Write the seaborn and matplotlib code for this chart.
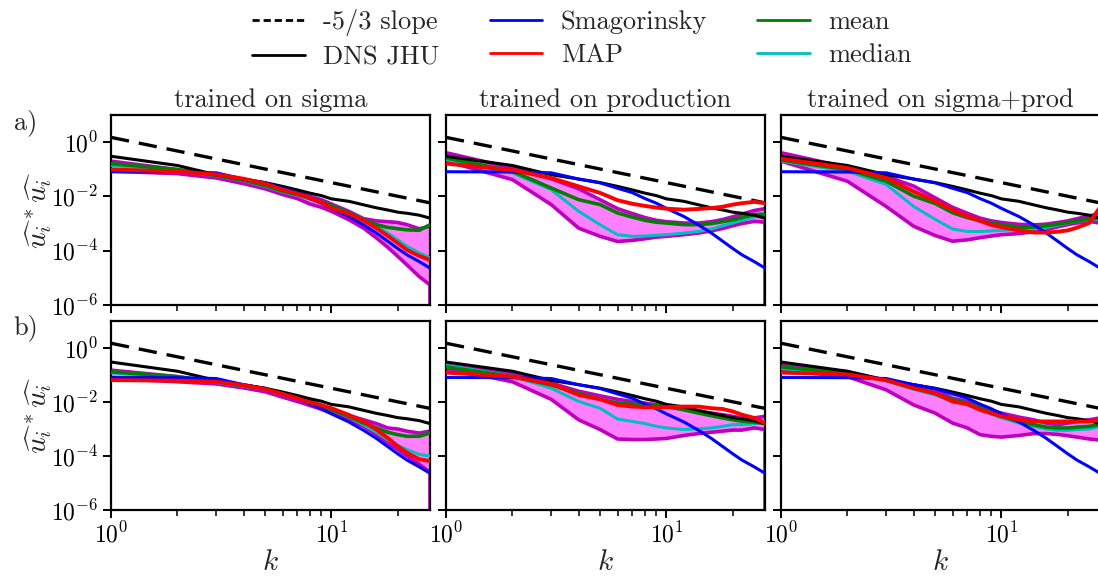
import numpy as np
import pandas as pd
import matplotlib
matplotlib.use("Agg")
import matplotlib.pyplot as plt
import seaborn as sns
from matplotlib.lines import Line2D
from matplotlib.ticker import FixedLocator, NullFormatter, NullLocator, LogLocator

# ---------------- data (log10 of spectrum values) ----------------
k = [1, 2, 3, 4, 5, 6, 7, 8, 9, 10, 12, 14, 16, 18, 20, 22, 25, 28]
k_lo = k + [28]                       # lower band ends with a drop at the last mode
slope_k = [1, 28]
slope_vals = [1.5, 0.0058]

dns = [-0.52, -0.86, -1.20, -1.36, -1.49, -1.63, -1.76, -1.88, -1.97, -2.09, -2.18, -2.31, -2.42, -2.50, -2.58, -2.62, -2.69, -2.80]
smag = [-1.09, -1.10, -1.13, -1.36, -1.50, -1.70, -1.86, -2.08, -2.25, -2.44, -2.74, -3.05, -3.35, -3.65, -3.92, -4.15, -4.40, -4.64]

# row a) , trained on sigma
up_a_sig = [-0.70, -1.01, -1.23, -1.38, -1.53, -1.74, -1.86, -2.00, -2.12, -2.28, -2.55, -2.82, -2.90, -2.93, -2.96, -3.04, -3.19, -3.10]
mean_a_sig = [-0.79, -1.01, -1.23, -1.40, -1.60, -1.80, -1.93, -2.07, -2.20, -2.34, -2.60, -2.86, -3.04, -3.14, -3.19, -3.23, -3.25, -3.04]
med_a_sig = [-0.86, -1.04, -1.24, -1.42, -1.63, -1.83, -1.96, -2.10, -2.23, -2.38, -2.65, -2.90, -3.10, -3.35, -3.60, -3.84, -4.07, -4.27]
map_a_sig = [-1.01, -1.08, -1.19, -1.35, -1.53, -1.75, -1.90, -2.06, -2.22, -2.43, -2.64, -2.89, -3.17, -3.45, -3.72, -3.97, -4.19, -4.34]
lo_a_sig = [-1.07, -1.16, -1.32, -1.53, -1.72, -1.93, -2.08, -2.28, -2.40, -2.55, -2.86, -3.17, -3.53, -3.87, -4.21, -4.52, -4.95, -5.26, -12]

# row a) , trained on production
up_a_prod = [-0.39, -0.95, -1.35, -1.72, -2.12, -2.45, -2.63, -2.78, -2.88, -2.93, -2.98, -2.98, -2.93, -2.85, -2.75, -2.65, -2.52, -2.45]
mean_a_prod = [-0.58, -1.07, -1.69, -2.12, -2.30, -2.61, -2.76, -2.88, -2.95, -2.98, -3.04, -3.04, -3.00, -2.93, -2.86, -2.78, -2.67, -2.65]
med_a_prod = [-0.64, -1.13, -1.75, -2.55, -3.04, -3.41, -3.47, -3.46, -3.43, -3.41, -3.35, -3.29, -3.20, -3.08, -2.98, -2.88, -2.76, -2.68]
map_a_prod = [-0.79, -1.03, -1.32, -1.63, -1.87, -2.14, -2.27, -2.35, -2.41, -2.45, -2.49, -2.46, -2.43, -2.38, -2.30, -2.25, -2.20, -2.25]
lo_a_prod = [-0.70, -1.38, -2.30, -3.17, -3.47, -3.66, -3.62, -3.56, -3.50, -3.47, -3.41, -3.35, -3.27, -3.18, -3.08, -3.00, -2.92, -2.95, -12]

# row a) , trained on sigma+prod
up_a_both = [-0.39, -0.93, -1.26, -1.62, -2.05, -2.40, -2.62, -2.80, -2.90, -2.96, -3.03, -3.05, -3.02, -2.96, -2.90, -2.82, -2.72, -2.62]
mean_a_both = [-0.66, -1.01, -1.44, -1.99, -2.26, -2.60, -2.78, -2.90, -2.98, -3.04, -3.13, -3.13, -3.08, -3.02, -2.96, -2.90, -2.83, -2.80]
med_a_both = [-0.70, -1.07, -1.56, -2.37, -2.84, -3.20, -3.29, -3.29, -3.27, -3.25, -3.23, -3.20, -3.15, -3.06, -2.98, -2.92, -2.86, -2.83]
map_a_both = [-0.61, -0.95, -1.32, -1.82, -2.17, -2.50, -2.73, -2.90, -3.05, -3.13, -3.25, -3.33, -3.33, -3.30, -3.25, -3.15, -2.98, -2.40]
lo_a_both = [-0.70, -1.44, -2.37, -3.10, -3.44, -3.65, -3.60, -3.52, -3.46, -3.41, -3.37, -3.30, -3.22, -3.12, -3.04, -2.98, -2.92, -2.98, -12]

# row b) , trained on sigma
up_b_sig = [-0.82, -1.06, -1.29, -1.42, -1.55, -1.72, -1.86, -2.00, -2.15, -2.29, -2.50, -2.66, -2.80, -2.96, -3.00, -3.08, -3.15, -3.08]
mean_b_sig = [-0.88, -1.06, -1.25, -1.40, -1.50, -1.70, -1.83, -1.98, -2.12, -2.29, -2.53, -2.78, -2.96, -3.12, -3.21, -3.27, -3.27, -3.15]
med_b_sig = [-0.92, -1.08, -1.27, -1.42, -1.52, -1.72, -1.85, -2.00, -2.14, -2.30, -2.55, -2.85, -3.12, -3.40, -3.60, -3.76, -3.94, -4.00]
map_b_sig = [-1.19, -1.21, -1.25, -1.38, -1.52, -1.70, -1.86, -2.02, -2.12, -2.23, -2.48, -2.72, -3.02, -3.33, -3.64, -3.88, -4.12, -4.19]
lo_b_sig = [-1.13, -1.25, -1.33, -1.48, -1.62, -1.82, -1.98, -2.13, -2.27, -2.41, -2.65, -2.90, -3.21, -3.51, -3.76, -4.00, -4.30, -4.60, -12]

# row b) , trained on production
up_b_prod = [-0.64, -0.95, -1.30, -1.60, -1.77, -1.90, -1.98, -2.04, -2.10, -2.17, -2.25, -2.35, -2.41, -2.47, -2.53, -2.59, -2.59, -2.53]
mean_b_prod = [-0.70, -1.06, -1.37, -1.68, -1.90, -2.04, -2.08, -2.10, -2.13, -2.17, -2.29, -2.41, -2.51, -2.59, -2.66, -2.71, -2.75, -2.80]
med_b_prod = [-0.64, -1.04, -1.49, -1.98, -2.23, -2.63, -2.72, -2.80, -2.90, -2.96, -3.02, -2.99, -2.96, -2.90, -2.84, -2.84, -2.80, -2.72]
map_b_prod = [-0.91, -1.06, -1.33, -1.74, -1.90, -2.11, -2.17, -2.19, -2.19, -2.19, -2.17, -2.17, -2.23, -2.26, -2.35, -2.47, -2.59, -2.78]
lo_b_prod = [-0.76, -1.25, -1.90, -2.66, -3.02, -3.37, -3.39, -3.39, -3.37, -3.35, -3.24, -3.17, -3.12, -3.08, -3.04, -3.04, -2.96, -3.02, -12]

# row b) , trained on sigma+prod
up_b_both = [-0.64, -0.88, -1.19, -1.37, -1.55, -1.86, -1.98, -2.16, -2.30, -2.41, -2.56, -2.66, -2.78, -2.84, -2.78, -2.72, -2.66, -2.59]
mean_b_both = [-0.70, -0.94, -1.19, -1.49, -1.68, -1.92, -2.04, -2.23, -2.40, -2.53, -2.72, -2.84, -2.93, -2.96, -2.96, -2.93, -2.90, -2.84]
med_b_both = [-0.76, -0.97, -1.22, -1.53, -1.74, -1.98, -2.10, -2.29, -2.45, -2.59, -2.78, -2.90, -3.00, -3.05, -3.05, -3.02, -3.00, -2.90]
map_b_both = [-0.91, -0.98, -1.19, -1.49, -1.68, -1.98, -2.08, -2.29, -2.42, -2.53, -2.66, -2.72, -2.72, -2.72, -2.72, -2.72, -2.72, -2.66]
lo_b_both = [-0.82, -1.06, -1.55, -2.11, -2.41, -2.78, -2.96, -3.21, -3.27, -3.30, -3.24, -3.17, -3.17, -3.20, -3.25, -3.30, -3.37, -3.41, -12]

titles = ["trained on sigma", "trained on production", "trained on sigma+prod"]
row_labels = ["a)", "b)"]
legend_labels = ["-5/3 slope", "DNS JHU", "Smagorinsky", "MAP", "mean", "median"]

panels = [
    [(up_a_sig, mean_a_sig, med_a_sig, map_a_sig, lo_a_sig),
     (up_a_prod, mean_a_prod, med_a_prod, map_a_prod, lo_a_prod),
     (up_a_both, mean_a_both, med_a_both, map_a_both, lo_a_both)],
    [(up_b_sig, mean_b_sig, med_b_sig, map_b_sig, lo_b_sig),
     (up_b_prod, mean_b_prod, med_b_prod, map_b_prod, lo_b_prod),
     (up_b_both, mean_b_both, med_b_both, map_b_both, lo_b_both)],
]

# ---------------- style ----------------
sns.set_style("ticks")
plt.rcParams["font.family"] = ["serif"]
plt.rcParams["font.serif"] = ["cmr10", "DejaVu Serif"]
plt.rcParams["mathtext.fontset"] = "cm"
plt.rcParams["axes.formatter.use_mathtext"] = True
plt.rcParams["axes.unicode_minus"] = False
FS = 17
FS_TEXT = 19

C_BAND_LINE = "#bf00bf"
C_BAND_FILL = "#ff80ff"

fig = plt.figure(figsize=(10.98, 5.77), dpi=100)
W, H = 1098, 577
col_left = [111, 446, 781]
pw = 319
row_top = [115, 321]
ph = [190, 189]


def pw10(v):
    return [10.0 ** x for x in v]


axes = []
for r in range(2):
    for c in range(3):
        ax = fig.add_axes([col_left[c] / W, 1 - (row_top[r] + ph[r]) / H, pw / W, ph[r] / H])
        axes.append(ax)
        up, mean, med, mp, lo = panels[r][c]
        ax.set_xscale("log")
        ax.set_yscale("log")
        ax.fill_between(k, pw10(lo[:len(k)]), pw10(up), color=C_BAND_FILL, lw=0, zorder=1)
        sns.lineplot(x=k, y=pw10(up), ax=ax, color=C_BAND_LINE, lw=2.6, estimator=None, sort=False, zorder=2)
        sns.lineplot(x=k_lo, y=pw10(lo), ax=ax, color=C_BAND_LINE, lw=2.6, estimator=None, sort=False, zorder=2)
        sns.lineplot(x=slope_k, y=slope_vals, ax=ax, color="black", lw=2.4, estimator=None, sort=False,
                     zorder=3).lines[-1].set_dashes([5.5, 3])
        sns.lineplot(x=k, y=pw10(med), ax=ax, color="c", lw=2.2, estimator=None, sort=False, zorder=3)
        sns.lineplot(x=k, y=pw10(mean), ax=ax, color="g", lw=2.6, estimator=None, sort=False, zorder=4)
        sns.lineplot(x=k, y=pw10(dns), ax=ax, color="black", lw=2.2, estimator=None, sort=False, zorder=5)
        sns.lineplot(x=k, y=pw10(smag), ax=ax, color="b", lw=2.2, estimator=None, sort=False, zorder=5)
        sns.lineplot(x=k, y=pw10(mp), ax=ax, color="r", lw=2.8, estimator=None, sort=False, zorder=6)

        ax.set_xlim(1, 28)
        ax.set_ylim(1e-6, 1e1)
        ax.yaxis.set_major_locator(FixedLocator([1e-6, 1e-4, 1e-2, 1e0]))
        ax.yaxis.set_minor_locator(NullLocator())
        ax.xaxis.set_major_locator(FixedLocator([1, 10]))
        ax.xaxis.set_minor_locator(LogLocator(base=10, subs=[2, 3, 4, 5, 6, 7, 8, 9], numticks=20))
        ax.xaxis.set_minor_formatter(NullFormatter())
        ax.tick_params(which="major", direction="out", length=6, width=1.4, labelsize=FS, colors="black", pad=3)
        ax.tick_params(which="minor", direction="out", length=4, width=1.1, colors="black")
        for s in ax.spines.values():
            s.set_linewidth(1.6)
            s.set_color("black")
        ax.set_xlabel("")
        ax.set_ylabel("")
        if r == 0:
            ax.set_title(titles[c], fontsize=FS_TEXT, pad=6)
            ax.tick_params(labelbottom=False)
        else:
            ax.set_xlabel(r"$k$", fontsize=FS + 4, labelpad=1)
        if c == 0:
            ax.set_ylabel(r"$\widehat{u_i}^*\widehat{u_i}$", fontsize=FS + 4, labelpad=-2)
        else:
            ax.tick_params(labelleft=False)

fig.text(26 / W, 1 - 123 / H, row_labels[0], fontsize=FS_TEXT, ha="center", va="center")
fig.text(26 / W, 1 - 328 / H, row_labels[1], fontsize=FS_TEXT, ha="center", va="center")

handles = [
    Line2D([], [], color="black", lw=2.0, dashes=[2.6, 1.4]),
    Line2D([], [], color="black", lw=2.0),
    Line2D([], [], color="b", lw=2.0),
    Line2D([], [], color="r", lw=2.0),
    Line2D([], [], color="g", lw=2.0),
    Line2D([], [], color="c", lw=2.0),
]
fig.legend(handles, legend_labels, loc="upper center", bbox_to_anchor=(0.53, 1.025), ncol=3,
           frameon=False, fontsize=FS_TEXT, handlelength=2.0, columnspacing=1.9, handletextpad=0.7,
           labelspacing=0.35)

fig.savefig("out.png", dpi=100)
